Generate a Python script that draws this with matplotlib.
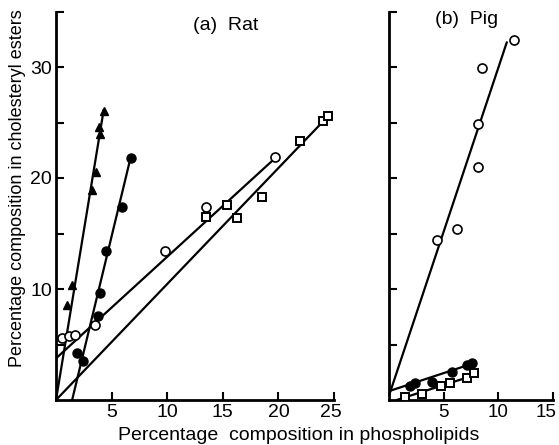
import matplotlib
matplotlib.use("Agg")
import matplotlib.pyplot as plt
import matplotlib.transforms as mtransforms
import numpy as np

plt.rcParams['font.family'] = ['Liberation Sans', 'DejaVu Sans']

# ---------------- data: (a) Rat ----------------
rat_tri_x = [0.96, 1.4, 3.2, 3.6, 3.9, 4.0, 4.3]
rat_tri_y = [8.6, 10.4, 18.9, 20.5, 24.6, 24.0, 26.0]
rat_fc_x = [1.9, 2.4, 3.8, 4.0, 4.5, 5.9, 6.7]
rat_fc_y = [4.2, 3.5, 7.55, 9.6, 13.4, 17.4, 21.8]
rat_oc_x = [0.54, 1.14, 1.73, 3.5, 9.8, 13.5, 19.7]
rat_oc_y = [5.6, 5.75, 5.9, 6.8, 13.4, 17.4, 21.9]
rat_sq_x = [13.5, 15.4, 16.3, 18.5, 21.9, 24.0, 24.5]
rat_sq_y = [16.5, 17.6, 16.4, 18.3, 23.3, 25.1, 25.6]
# fitted lines: (x_start, y_start, x_end, y_end)
rat_tri_line = [0.0, 0.0, 4.3, 26.2]
rat_fc_line = [1.45, 0.0, 6.7, 21.8]
rat_oc_line = [0.0, 3.75, 19.5, 21.6]
rat_sq_line = [0.0, 0.0, 24.5, 25.6]

# ---------------- data: (b) Pig ----------------
pig_oc_x = [4.4, 6.2, 8.1, 8.15, 8.5, 11.4]
pig_oc_y = [14.4, 15.4, 21.0, 24.9, 29.9, 32.4]
pig_fc_x = [1.9, 2.4, 3.9, 5.8, 7.15, 7.6]
pig_fc_y = [1.3, 1.55, 1.65, 2.5, 3.15, 3.3]
pig_sq_x = [1.5, 3.0, 4.8, 5.6, 7.15, 7.8]
pig_sq_y = [0.3, 0.55, 1.25, 1.55, 1.95, 2.45]
pig_oc_line = [0.0, 0.4, 10.8, 32.3]
pig_fc_line = [0.0, 0.8, 7.7, 3.3]
pig_sq_line = [0.7, 0.0, 7.7, 2.2]

rat_xticks = [5, 10, 15, 20, 25]
pig_xticks = [5, 10, 15]
y_ticks = [5, 10, 15, 20, 25, 30, 35]
y_ticklabels = ['', '10', '', '20', '', '30', '']

W, H = 559, 445
fig = plt.figure(figsize=(W / 100, H / 100), dpi=100)

ax1 = fig.add_axes([56 / W, 45 / H, 278 / W, 388.5 / H])
ax2 = fig.add_axes([389 / W, 45 / H, 164 / W, 388.5 / H])

lw = 1.6
ms = 6.0


def draw_line(ax, seg):
    ax.plot([seg[0], seg[2]], [seg[1], seg[3]], color='black', lw=lw,
            solid_capstyle='butt', zorder=2, clip_on=False)


def style(ax, xmax, xticks):
    ax.set_xlim(0, xmax)
    ax.set_ylim(0, 35)
    for s in ['top', 'right']:
        ax.spines[s].set_visible(False)
    for s in ['left', 'bottom']:
        ax.spines[s].set_linewidth(2.0)
    ax.set_xticks(xticks)
    ax.set_yticks(y_ticks)
    ax.tick_params(direction='in', length=6, width=1.5, labelsize=14,
                   pad=3, colors='black')
    ax.patch.set_alpha(0)


style(ax1, 25, rat_xticks)
ax1.set_yticklabels(y_ticklabels)
ax1.set_xticklabels([str(v) for v in rat_xticks])

style(ax2, 15, pig_xticks)
ax2.set_yticklabels([])
ax2.set_xticklabels([str(v) for v in pig_xticks])
ax2.tick_params(axis='x', labelsize=13.5)

# shift the last tick label of each panel slightly left, as in the reference
for ax, dx in [(ax1, -3), (ax2, -7)]:
    lab = ax.get_xticklabels()[-1]
    lab.set_transform(lab.get_transform() +
                      mtransforms.ScaledTranslation(dx / 100, 0, fig.dpi_scale_trans))

# Rat
for seg in [rat_tri_line, rat_fc_line, rat_oc_line, rat_sq_line]:
    draw_line(ax1, seg)
ax1.plot(rat_tri_x, rat_tri_y, '^', color='black', ms=ms, zorder=3)
ax1.plot(rat_fc_x, rat_fc_y, 'o', color='black', ms=ms + 0.5, zorder=3)
ax1.plot(rat_oc_x, rat_oc_y, 'o', mfc='white', mec='black', mew=1.2,
         ms=ms + 0.5, zorder=3)
ax1.plot(rat_sq_x, rat_sq_y, 's', mfc='white', mec='black', mew=1.4,
         ms=ms - 0.5, zorder=3)

# Pig
for seg in [pig_oc_line, pig_fc_line, pig_sq_line]:
    draw_line(ax2, seg)
ax2.plot(pig_oc_x, pig_oc_y, 'o', mfc='white', mec='black', mew=1.2,
         ms=ms + 0.5, zorder=3)
ax2.plot(pig_fc_x, pig_fc_y, 'o', color='black', ms=ms + 0.5, zorder=3)
ax2.plot(pig_sq_x, pig_sq_y, 's', mfc='white', mec='black', mew=1.4,
         ms=ms - 0.5, zorder=3)

# Texts
fig.text(226 / W, 1 - 26 / H, '(a)  Rat', ha='center', va='center', fontsize=14)
fig.text(467 / W, 1 - 20 / H, '(b)  Pig', ha='center', va='center', fontsize=14)
fig.text(299 / W, 1 - 436 / H, 'Percentage  composition in phospholipids',
         ha='center', va='center', fontsize=14)
fig.text(18 / W, 1 - 188 / H, 'Percentage composition in cholesteryl esters',
         ha='center', va='center', rotation=90, fontsize=13)

fig.savefig('out.png', dpi=100)
